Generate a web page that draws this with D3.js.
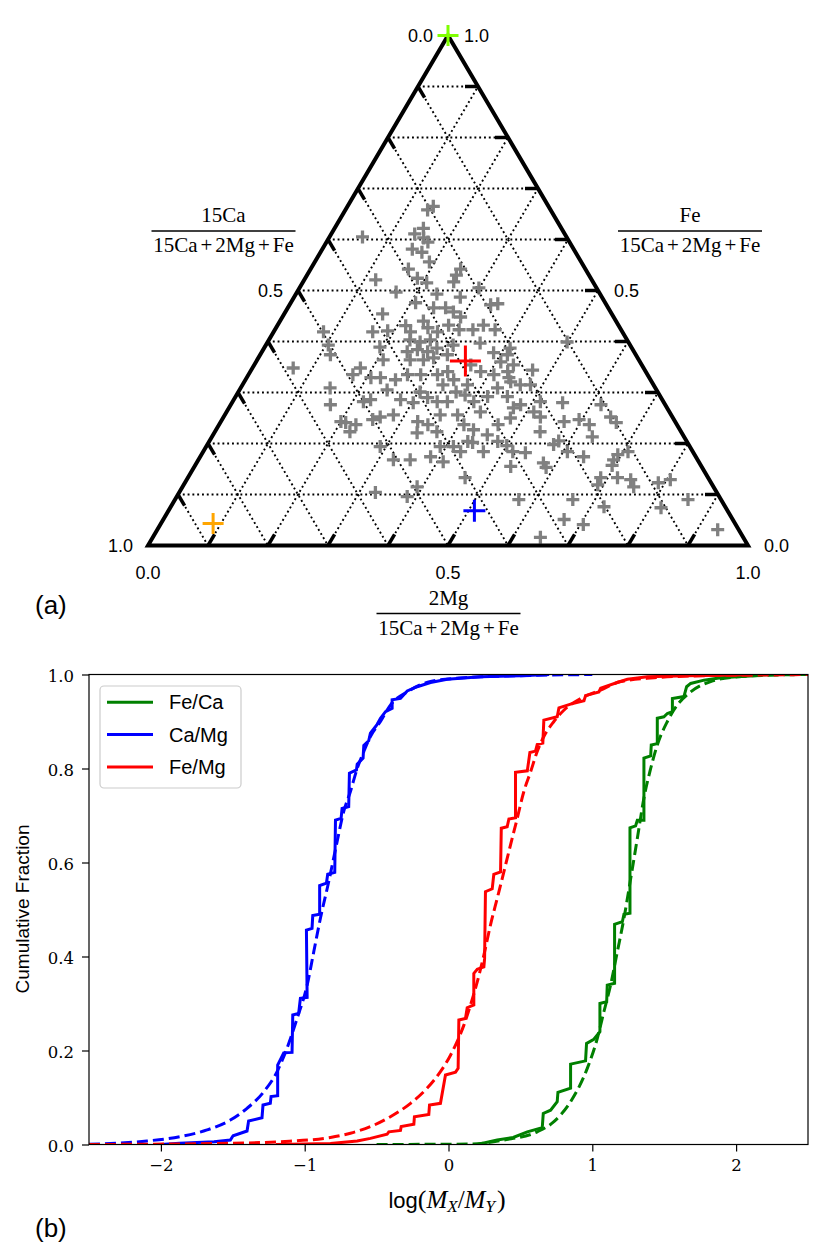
<!DOCTYPE html>
<html><head><meta charset="utf-8">
<script src="https://cdn.jsdelivr.net/npm/d3@7"></script>
<style>body{margin:0;background:#fff}svg{display:block}</style>
</head><body>
<svg id="c" width="831" height="1254"></svg>
<script>
// ---------- (a) ternary data: fractions of Fe and 2Mg (Ca = 1 - Fe - Mg) ----------
const grayFe = [.665,.658,.605,.622,.611,.603,.595,.581,.575,.556,.542,.521,.524,.515,.542,.530,.517,.505,.497,.493,
.487,.476,.466,.466,.458,.448,.472,.474,.454,.419,.421,.431,.419,.440,.427,.419,.432,.423,.423,.432,
.423,.419,.393,.374,.348,.389,.364,.348,.335,.329,.329,.309,.276,.282,.286,.305,.286,.280,.335,.335,
.403,.399,.403,.380,.384,.380,.387,.364,.364,.368,.374,.393,.397,.378,.387,.354,.335,.341,.325,.315,
.315,.341,.335,.341,.321,.309,.292,.282,.290,.282,.282,.256,.237,.243,.221,.223,.256,.237,.227,.217,
.237,.270,.250,.262,.241,.237,.223,.247,.252,.256,.243,.194,.168,.168,.174,.164,.194,.184,.204,.184,
.204,.155,.196,.374,.329,.344,.315,.315,.292,.276,.282,.262,.252,.280,.243,.223,.247,.237,.213,.276,
.252,.241,.198,.184,.182,.162,.174,.168,.184,.399,.194,.202,.133,.115,.104,.096,.184,.205,.153,.178,
.157,.133,.119,.133,.129,.115,.123,.129,.090,.090,.076,.074,.090,.051,.041,.016,.031,.295,.301,.354,
.360,.301,.325];
const grayMg = [.143,.137,.055,.148,.139,.158,.169,.150,.169,.191,.163,.119,.187,.207,.250,.249,.251,.299,.165,.235,
.277,.208,.243,.263,.280,.297,.335,.346,.164,.165,.189,.214,.228,.239,.253,.273,.285,.307,.330,.343,
.367,.083,.104,.117,.068,.192,.210,.180,.174,.207,.223,.149,.166,.218,.228,.246,.278,.302,.265,.287,
.235,.254,.269,.242,.257,.276,.288,.255,.277,.292,.312,.312,.355,.387,.410,.432,.315,.329,.347,.334,
.375,.384,.409,.429,.444,.428,.420,.402,.321,.341,.358,.359,.348,.328,.338,.370,.388,.408,.429,.457,
.465,.474,.479,.423,.209,.228,.225,.251,.261,.281,.200,.290,.325,.353,.384,.410,.390,.429,.431,.467,
.481,.527,.500,.412,.437,.469,.463,.480,.453,.483,.513,.512,.528,.551,.572,.542,.595,.617,.634,.617,
.645,.660,.577,.607,.538,.578,.639,.692,.708,.499,.412,.440,.462,.391,.327,.384,.516,.582,.587,.694,
.695,.688,.690,.716,.740,.752,.789,.806,.573,.663,.722,.818,.855,.668,.705,.646,.934,.381,.363,.361,
.408,.303,.250];
// highlighted points: apex, red, blue, orange
const markFe = [1.0, .362, .068, .043];
const markMg = [0.0, .348, .510, .087];
const ternLevels = [.1,.2,.3,.4,.5,.6,.7,.8,.9];
const ternLabels = [0.0, 0.5, 1.0];

// ---------- (b) cumulative distributions ----------
const seriesNames = ["Fe/Ca","Ca/Mg","Fe/Mg"];
const feCaData = [[0.2,0],[0.339,0.0096],[0.45,0.015],[0.548,0.027],[0.652,0.036],[0.659,0.066],[0.710,0.073],[0.756,0.091],[0.761,0.111],[0.849,0.12],[0.849,0.171],[0.953,0.178],[0.960,0.215],[1.011,0.224],[1.053,0.24],[1.053,0.30],[1.100,0.304],[1.104,0.339],[1.155,0.343],[1.155,0.4685],[1.209,0.474],[1.220,0.49],[1.262,0.492],[1.262,0.674],[1.301,0.678],[1.313,0.69],[1.359,0.69],[1.359,0.822],[1.406,0.827],[1.41,0.85],[1.452,0.853],[1.452,0.907],[1.498,0.91],[1.522,0.917],[1.557,0.921],[1.557,0.949],[1.637,0.953],[1.656,0.974],[1.684,0.981],[1.777,0.988],[1.893,0.993],[2.125,0.9975],[2.24,1.0]];
const caMgData = [[-2.0,0],[-1.87,0.0025],[-1.63,0.006],[-1.517,0.0096],[-1.498,0.0187],[-1.401,0.0287],[-1.390,0.050],[-1.297,0.057],[-1.290,0.084],[-1.239,0.0876],[-1.234,0.102],[-1.188,0.104],[-1.188,0.169],[-1.146,0.195],[-1.088,0.196],[-1.083,0.2755],[-1.042,0.279],[-1.030,0.311],[-0.983,0.313],[-0.988,0.456],[-0.949,0.46],[-0.944,0.487],[-0.896,0.49],[-0.896,0.551],[-0.849,0.556],[-0.840,0.575],[-0.791,0.579],[-0.786,0.690],[-0.747,0.694],[-0.740,0.715],[-0.694,0.719],[-0.689,0.790],[-0.640,0.797],[-0.635,0.809],[-0.594,0.822],[-0.589,0.849],[-0.555,0.859],[-0.543,0.875],[-0.496,0.894],[-0.473,0.907],[-0.438,0.921],[-0.392,0.928],[-0.392,0.946],[-0.334,0.949],[-0.287,0.965],[-0.218,0.974],[-0.125,0.983],[-0.009,0.990],[0.223,0.995],[0.50,0.9975],[0.62,0.999],[0.70,1.0]];
const feMgData = [[-1.2,0],[-0.821,0.002],[-0.635,0.0075],[-0.543,0.013],[-0.427,0.0217],[-0.415,0.027],[-0.334,0.030],[-0.329,0.038],[-0.241,0.043],[-0.237,0.059],[-0.137,0.064],[-0.132,0.084],[-0.056,0.0876],[-0.021,0.148],[0.049,0.154],[0.067,0.162],[0.072,0.265],[0.118,0.268],[0.130,0.291],[0.176,0.297],[0.176,0.364],[0.2,0.373],[0.246,0.378],[0.251,0.396],[0.257,0.538],[0.304,0.544],[0.315,0.575],[0.362,0.580],[0.367,0.673],[0.408,0.676],[0.420,0.6925],[0.466,0.695],[0.466,0.792],[0.548,0.795],[0.566,0.834],[0.605,0.837],[0.617,0.851],[0.656,0.854],[0.663,0.903],[0.756,0.910],[0.768,0.929],[0.849,0.937],[0.942,0.944],[0.953,0.955],[1.046,0.963],[1.058,0.971],[1.174,0.983],[1.244,0.990],[1.383,0.995],[1.661,0.9975],[2.009,0.999],[2.1,1.0]];
const feCaFit = [[-0.5,0],[0.153,0.001],[0.385,0.0096],[0.617,0.027],[0.733,0.0486],[0.849,0.091],[0.965,0.162],[1.035,0.226],[1.081,0.283],[1.127,0.339],[1.174,0.41],[1.22,0.481],[1.267,0.566],[1.313,0.651],[1.359,0.737],[1.406,0.80],[1.452,0.85],[1.522,0.90],[1.591,0.935],[1.684,0.963],[1.823,0.985],[2.009,0.995],[2.24,0.9985],[2.5,1.0]];
const caMgFit = [[-2.5,0.0005],[-2.097,0.0075],[-1.865,0.0167],[-1.679,0.031],[-1.517,0.052],[-1.401,0.077],[-1.285,0.112],[-1.192,0.155],[-1.123,0.205],[-1.053,0.268],[-0.983,0.339],[-0.937,0.41],[-0.891,0.481],[-0.833,0.559],[-0.775,0.644],[-0.729,0.708],[-0.682,0.751],[-0.635,0.80],[-0.589,0.836],[-0.543,0.868],[-0.473,0.90],[-0.404,0.935],[-0.287,0.963],[-0.125,0.985],[0.107,0.993],[0.57,0.998],[1.0,1.0]];
const feMgFit = [[-2.5,0.0],[-1.63,0.002],[-1.169,0.006],[-0.821,0.015],[-0.682,0.024],[-0.543,0.038],[-0.404,0.059],[-0.264,0.0876],[-0.148,0.12],[-0.056,0.155],[0.014,0.19],[0.060,0.219],[0.107,0.254],[0.153,0.297],[0.2,0.346],[0.246,0.403],[0.292,0.467],[0.339,0.524],[0.385,0.58],[0.431,0.637],[0.478,0.694],[0.524,0.751],[0.571,0.793],[0.617,0.836],[0.663,0.868],[0.733,0.90],[0.802,0.924],[0.919,0.949],[1.058,0.967],[1.197,0.985],[1.429,0.993],[1.777,0.9975],[2.24,0.999],[2.5,1.0]];
const xTicks = [-2,-1,0,1,2];
const yTicks = [0,0.2,0.4,0.6,0.8,1.0];

// ================= drawing =================
const svg = d3.select('#c');
const SANS = "'Liberation Sans', Arial, sans-serif";
const SERIF = "'Liberation Serif', 'DejaVu Serif', serif";
const NSERIF = "'DejaVu Serif', serif";

// ---- ternary ----
const tx = d3.scaleLinear().domain([0,1]).range([148,748]);
const ty = d3.scaleLinear().domain([0,1]).range([545.5,35.5]);
const proj = (fe,mg) => [tx(mg + fe/2), ty(fe)];
const tern = svg.append('g');

const gridG = tern.append('g').attr('stroke','#000').attr('stroke-width',1.9)
  .attr('stroke-dasharray','1.9,2.9').attr('fill','none');
ternLevels.forEach(k => {
  const segs = [
    [proj(k,0), proj(k,1-k)],      // Fe = k
    [proj(0,k), proj(1-k,k)],      // Mg = k
    [proj(1-k,0), proj(0,1-k)]     // Ca = k
  ];
  segs.forEach(s => gridG.append('path').attr('d', d3.line()(s)));
});

// gray points
tern.append('g').selectAll('path').data(d3.range(grayFe.length)).join('path')
  .attr('transform', i => `translate(${proj(grayFe[i], grayMg[i])})`)
  .attr('d','M-6.5,0H6.5M0,-6.5V6.5')
  .attr('stroke','#808080').attr('stroke-width',3.3).attr('fill','none');

// triangle frame
tern.append('path')
  .attr('d', d3.line()([proj(0,0), proj(0,1), proj(1,0)]) + 'Z')
  .attr('fill','none').attr('stroke','#000').attr('stroke-width',4).attr('stroke-linejoin','miter');

// ticks
const unit = (a,b) => { const dx=b[0]-a[0], dy=b[1]-a[1], L=Math.hypot(dx,dy); return [dx/L, dy/L]; };
const tickLen = 13;
const tickG = tern.append('g').attr('stroke','#000').attr('stroke-width',3.5);
ternLevels.forEach(k => {
  const defs = [
    [proj(1-k,0), proj(0,1-k)],   // Ca ticks on left edge
    [proj(k,1-k), proj(k,0)],     // Fe ticks on right edge
    [proj(0,k), proj(1-k,k)]      // Mg ticks on bottom edge
  ];
  defs.forEach(([p,q]) => {
    const u = unit(p,q);
    tickG.append('line').attr('x1',p[0]).attr('y1',p[1])
      .attr('x2',p[0]+u[0]*tickLen).attr('y2',p[1]+u[1]*tickLen);
  });
});

// tick labels
const tlG = tern.append('g').attr('font-family',SANS).attr('font-size',18).attr('fill','#000');
ternLabels.forEach(v => {
  const pl = proj(1-v,0);
  tlG.append('text').attr('x',pl[0]-15).attr('y',pl[1]).attr('text-anchor','end')
    .attr('dominant-baseline','central').text(v.toFixed(1));
  const pr = proj(v,1-v);
  tlG.append('text').attr('x',pr[0]+16).attr('y',pr[1]).attr('text-anchor','start')
    .attr('dominant-baseline','central').text(v.toFixed(1));
  const pb = proj(0,v);
  tlG.append('text').attr('x',pb[0]).attr('y',pb[1]+27).attr('text-anchor','middle')
    .attr('dominant-baseline','central').text(v.toFixed(1));
});

// highlighted markers
const markColors = ['#7fff00','#ff0000','#0000ff','#ffa500'];
const markSize = [21,31,22,21];
tern.append('g').selectAll('path').data(d3.range(markFe.length)).join('path')
  .attr('transform', i => `translate(${proj(markFe[i], markMg[i])})`)
  .attr('d', i => { const h=markSize[i]/2; return `M${-h},0H${h}M0,${-h}V${h}`; })
  .attr('stroke', i => markColors[i]).attr('stroke-width',3).attr('fill','none');

// fraction titles
function fraction(cx, lineY, halfW, num) {
  const g = svg.append('g').attr('font-family',SERIF).attr('font-size',21).attr('fill','#000');
  g.append('text').attr('x',cx).attr('y',lineY-9).attr('text-anchor','middle').text(num);
  g.append('line').attr('x1',cx-halfW).attr('x2',cx+halfW).attr('y1',lineY).attr('y2',lineY)
    .attr('stroke','#000').attr('stroke-width',1.3);
  const den = g.append('text').attr('x',cx).attr('y',lineY+21).attr('text-anchor','middle');
  ['15Ca','+','2Mg','+','Fe'].forEach((s,i) => {
    den.append('tspan').attr('dx', i ? 3 : 0).text(s);
  });
}
fraction(223.5, 231, 72, '15Ca');
fraction(690, 231, 72, 'Fe');
fraction(448.5, 613.5, 72, '2Mg');

svg.append('text').attr('x',35).attr('y',614).attr('font-family',SANS).attr('font-size',26).text('(a)');

// ---- CDF panel ----
const L=89, R=808, T=674.5, B=1144.5;
const x = d3.scaleLinear().domain([-2.5,2.5]).range([L,R]);
const y = d3.scaleLinear().domain([0,1]).range([B,T]);
svg.append('defs').append('clipPath').attr('id','clipb').append('rect')
  .attr('x',L).attr('y',T).attr('width',R-L).attr('height',B-T);

const colors = {"Fe/Ca":"#008000","Ca/Mg":"#0000ff","Fe/Mg":"#ff0000"};
const empirical = {"Fe/Ca":feCaData,"Ca/Mg":caMgData,"Fe/Mg":feMgData};
const fits = {"Fe/Ca":feCaFit,"Ca/Mg":caMgFit,"Fe/Mg":feMgFit};
const lineStep = d3.line().x(d=>x(d[0])).y(d=>y(d[1]));
const lineFit = d3.line().x(d=>x(d[0])).y(d=>y(d[1])).curve(d3.curveMonotoneX);
const plotG = svg.append('g').attr('clip-path','url(#clipb)');
seriesNames.forEach(n => {
  plotG.append('path').attr('d', lineStep(empirical[n])).attr('fill','none')
    .attr('stroke',colors[n]).attr('stroke-width',3).attr('stroke-linejoin','miter');
  plotG.append('path').attr('d', lineFit(fits[n])).attr('fill','none')
    .attr('stroke',colors[n]).attr('stroke-width',3).attr('stroke-dasharray','11,5');
});

// axes
const xAxis = d3.axisBottom(x).tickValues(xTicks).tickSize(7).tickPadding(8)
  .tickFormat(d => d < 0 ? '\u2212' + Math.abs(d) : String(d));
const gx = svg.append('g').attr('transform',`translate(0,${B})`).call(xAxis);
const yAxis = d3.axisLeft(y).tickValues(yTicks).tickSize(7).tickPadding(8).tickFormat(d3.format('.1f'));
const gy = svg.append('g').attr('transform',`translate(${L},0)`).call(yAxis);
[gx,gy].forEach(g => {
  g.select('.domain').remove();
  g.selectAll('.tick line').attr('stroke','#000').attr('stroke-width',1.2);
  g.selectAll('.tick text').attr('font-family',NSERIF).attr('font-size',16.5).attr('fill','#000');
});
gy.selectAll('.tick text').attr('dy','0.45em');
svg.append('rect').attr('x',L).attr('y',T).attr('width',R-L).attr('height',B-T)
  .attr('fill','none').attr('stroke','#000').attr('stroke-width',1.2);

// axis labels
svg.append('text').attr('transform',`translate(29,909) rotate(-90)`).attr('text-anchor','middle')
  .attr('font-family',SANS).attr('font-size',19).text('Cumulative Fraction');
const xl = svg.append('text').attr('x',447).attr('y',1208).attr('text-anchor','middle')
  .attr('font-family',SANS).attr('font-size',22);
xl.append('tspan').text('log');
xl.append('tspan').attr('font-family',SERIF).attr('font-size',26).text('(');
xl.append('tspan').attr('font-family',SERIF).attr('font-style','italic').attr('font-size',25).text('M');
xl.append('tspan').attr('font-family',SERIF).attr('font-style','italic').attr('font-size',17).attr('dy',4).text('X');
xl.append('tspan').attr('font-family',SERIF).attr('font-size',25).attr('dy',-4).text('/');
xl.append('tspan').attr('font-family',SERIF).attr('font-style','italic').attr('font-size',25).text('M');
xl.append('tspan').attr('font-family',SERIF).attr('font-style','italic').attr('font-size',17).attr('dy',4).text('Y');
xl.append('tspan').attr('font-family',SERIF).attr('font-size',26).attr('dy',-4).attr('dx',2).text(')');

svg.append('text').attr('x',35).attr('y',1237).attr('font-family',SANS).attr('font-size',26).text('(b)');

// legend
const lg = svg.append('g');
lg.append('rect').attr('x',100).attr('y',686).attr('width',141).attr('height',102).attr('rx',4)
  .attr('fill','#fff').attr('fill-opacity',0.8).attr('stroke','#cccccc').attr('stroke-width',1.2);
seriesNames.forEach((n,i) => {
  const yy = 702.3 + i*32.3;
  lg.append('line').attr('x1',107).attr('x2',153).attr('y1',yy).attr('y2',yy)
    .attr('stroke',colors[n]).attr('stroke-width',3);
  lg.append('text').attr('x',169).attr('y',yy).attr('dominant-baseline','central')
    .attr('font-family',SANS).attr('font-size',20).text(n);
});
</script>
</body></html>
